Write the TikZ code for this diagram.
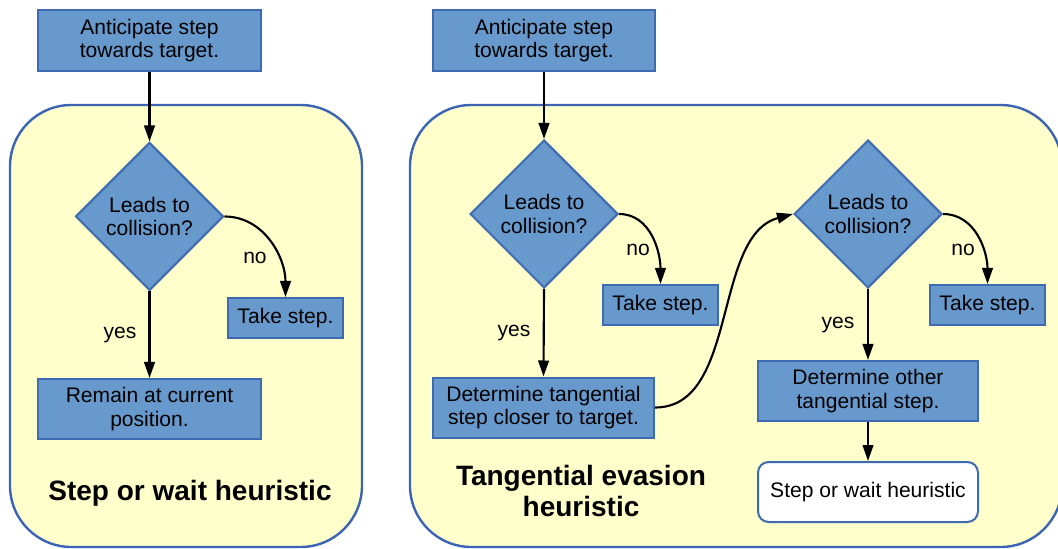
\documentclass[tikz,border=0pt]{standalone}
\usepackage{fontspec}
\setmainfont{Liberation Sans}
\usetikzlibrary{shapes.geometric,arrows.meta}
\definecolor{boxfill}{RGB}{103,153,204}
\definecolor{boxline}{RGB}{62,106,178}
\definecolor{panelfill}{RGB}{255,255,204}
\definecolor{panelline}{RGB}{60,100,180}
\tikzset{
  panel/.style={draw=panelline,fill=panelfill,line width=1.8pt,rounded corners=46pt},
  stepbox/.style={draw=boxline,fill=boxfill,line width=1.5pt,align=center,inner sep=0pt,
    font=\fontsize{15.8}{17.6}\selectfont},
  decide/.style={diamond,aspect=1,draw=boxline,fill=boxfill,line width=1.5pt,align=center,
    inner sep=0pt,minimum width=111pt,minimum height=111pt,font=\fontsize{15.8}{17.6}\selectfont},
  endbox/.style={draw=boxline,fill=white,line width=1.5pt,rounded corners=8pt,align=center,
    inner sep=0pt,font=\fontsize{15.8}{17.6}\selectfont},
  lbl/.style={font=\fontsize{15.8}{17.6}\selectfont,inner sep=0pt},
  title/.style={font=\fontsize{21}{23.5}\selectfont\bfseries,align=center,inner sep=0pt},
  arr/.style={line width=1.6pt,-{Triangle[length=12pt,width=8pt]}}
}
\begin{document}
\begin{tikzpicture}[x=0.75pt,y=-0.75pt]
\useasboundingbox (0,0) rectangle (1058,549);
\clip (0,0) rectangle (1058,549);
% panels
\draw[panel] (10,105) rectangle (362,547);
\draw[panel] (410,105) rectangle (1062,547);
% left panel
\node[stepbox,minimum width=167pt,minimum height=46pt] (a1) at (149.5,40.5) {Anticipate step\\towards target.};
\node[decide] (d1) at (149.5,216.5) {Leads to\\collision?};
\node[stepbox,minimum width=86pt,minimum height=30pt] (t1) at (285.5,318) {Take step.};
\node[stepbox,minimum width=167pt,minimum height=45pt] (r1) at (149.5,409) {Remain at current\\position.};
\node[lbl] (no1) at (255,258) {no};
\node[lbl] (yes1) at (120,335) {yes};
\node[title] (h1) at (190,493) {Step or wait heuristic};
\draw[arr] (a1.south) -- (d1.north);
\draw[arr] (d1.east) to[out=0,in=90] (t1.north);
\draw[arr] (d1.south) -- (r1.north);
% right panel
\node[stepbox,minimum width=166pt,minimum height=46pt] (a2) at (544,40.5) {Anticipate step\\towards target.};
\node[decide] (d2) at (544,214) {Leads to\\collision?};
\node[stepbox,minimum width=86pt,minimum height=30pt] (t2) at (660.5,305) {Take step.};
\node[stepbox,minimum width=166pt,minimum height=45pt] (g1) at (543.5,407.5) {Determine tangential\\step closer to target.};
\node[lbl] (no2) at (638,250) {no};
\node[lbl] (yes2) at (514,333) {yes};
\node[decide] (d3) at (868,214) {Leads to\\collision?};
\node[stepbox,minimum width=86pt,minimum height=30pt] (t3) at (987.5,305) {Take step.};
\node[stepbox,minimum width=165pt,minimum height=45pt] (g2) at (868,391) {Determine other\\tangential step.};
\node[endbox,minimum width=165pt,minimum height=45pt] (sw) at (868,492) {Step or wait heuristic};
\node[lbl] (no3) at (963,250) {no};
\node[lbl] (yes3) at (838,325) {yes};
\node[title] (h2) at (581,491) {Tangential evasion\\heuristic};
\draw[arr] (a2.south) -- (d2.north);
\draw[arr] (d2.east) to[out=0,in=90] (t2.north);
\draw[arr] (d2.south) -- (g1.north);
\draw[arr] (g1.east) to[out=0,in=195,looseness=0.9] (d3.west);
\draw[arr] (d3.east) to[out=0,in=90] (t3.north);
\draw[arr] (d3.south) -- (g2.north);
\draw[arr] (g2.south) -- (sw.north);
\end{tikzpicture}
\end{document}
